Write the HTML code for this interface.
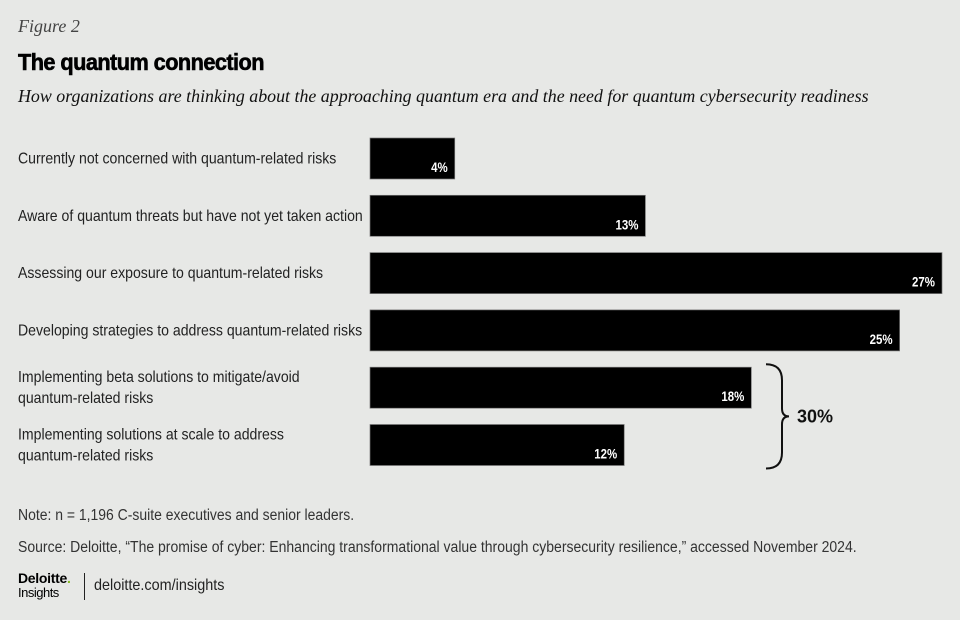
<!DOCTYPE html>
<html><head><meta charset="utf-8"><style>
body{margin:0;background:#e7e8e6;}
#root{position:relative;width:960px;height:620px;background:#e7e8e6;font-family:"Liberation Sans",sans-serif;color:#222;overflow:hidden}
.t{position:absolute;white-space:nowrap;transform-origin:left top}
</style></head><body>
<div id="root">
<div class="t" style="left:18px;top:16px;font:italic 18px 'Liberation Serif',serif;color:#444">Figure 2</div>
<div class="t" style="left:18px;top:49px;font:bold 23px 'Liberation Sans',sans-serif;color:#000;letter-spacing:-0.6px;-webkit-text-stroke:0.6px #000;transform:scaleX(0.945)">The quantum connection</div>
<div class="t" style="left:18px;top:86px;font:italic 17.9px 'Liberation Serif',serif;color:#111">How organizations are thinking about the approaching quantum era and the need for quantum cybersecurity readiness</div>
<svg id="chart" width="960" height="620" style="position:absolute;left:0;top:0"></svg>
<div class="t" style="left:18px;top:507px;font-size:15.5px;color:#333;transform:scaleX(0.9)">Note: n = 1,196 C-suite executives and senior leaders.</div>
<div class="t" style="left:18px;top:539px;font-size:15.5px;color:#333;transform:scaleX(0.903)">Source: Deloitte, “The promise of cyber: Enhancing transformational value through cybersecurity resilience,” accessed November 2024.</div>
<div class="t" style="left:18px;top:571px;font:bold 14px 'Liberation Sans',sans-serif;color:#000;line-height:14px;letter-spacing:-0.3px">Deloitte<span style="color:#86bc25">.</span><br><span style="font:13px 'Liberation Sans',sans-serif;letter-spacing:-0.5px">Insights</span></div>
<div class="t" style="left:84px;top:573px;width:1px;height:27px;background:#222"></div>
<div class="t" style="left:94px;top:577px;font-size:16px;color:#222;transform:scaleX(0.9)">deloitte.com/insights</div>
</div>
<script>
const categories=[["Currently not concerned with quantum-related risks"],["Aware of quantum threats but have not yet taken action"],["Assessing our exposure to quantum-related risks"],["Developing strategies to address quantum-related risks"],["Implementing beta solutions to mitigate/avoid","quantum-related risks"],["Implementing solutions at scale to address","quantum-related risks"]];
const values=[4,13,27,25,18,12];
const valueLabels=["4%","13%","27%","25%","18%","12%"];
const bracketLabel="30%";
const svg=document.getElementById('chart');const NS='http://www.w3.org/2000/svg';
const x0=370,xMax=27,xW=572;
const xs=v=>x0+v/xMax*xW;
const yTop=138,pitch=57.3,bh=41;
const ys=i=>yTop+i*pitch;
function mk(t,a){const e=document.createElementNS(NS,t);for(const k in a)e.setAttribute(k,a[k]);svg.appendChild(e);return e;}
const SX=0.88;
values.forEach((v,i)=>{
 const y=ys(i);
 const r=mk('rect',{x:x0,y:y,width:xs(v)-x0,height:bh,fill:'#000',stroke:'#777','stroke-width':0.7});
 
 
 const tx=xs(v)-7;
 const t=mk('text',{x:tx/0.85,y:y+bh-7,'text-anchor':'end',fill:'#fff','font-size':13.5,'font-weight':'bold',transform:'scale(0.85,1)','font-family':'Liberation Sans, sans-serif'});
 t.textContent=valueLabels[i];
 
 
 const lines=categories[i];
 const cy=y+bh/2;
 lines.forEach((ln,j)=>{
  const l=mk('text',{x:18/SX,y:cy+5+(j-(lines.length-1)/2)*21,fill:'#222','font-size':16,transform:`scale(${SX},1)`,'font-family':'Liberation Sans, sans-serif'});
  l.textContent=ln;
  
  
 });
});
const bt=ys(4)-3,bb=ys(5)+bh+3,bm=(bt+bb)/2;
const p=mk('path',{d:`M766 ${bt} Q782 ${bt} 782 ${bt+16} L782 ${bm-8} Q782 ${bm} 789 ${bm} Q782 ${bm} 782 ${bm+8} L782 ${bb-16} Q782 ${bb} 766 ${bb}`,fill:'none',stroke:'#111','stroke-width':2});


const bl=mk('text',{x:797,y:bm+6,fill:'#111','font-size':18,'font-weight':'bold','font-family':'Liberation Sans, sans-serif'});
bl.textContent=bracketLabel;


</script>
</body></html>
